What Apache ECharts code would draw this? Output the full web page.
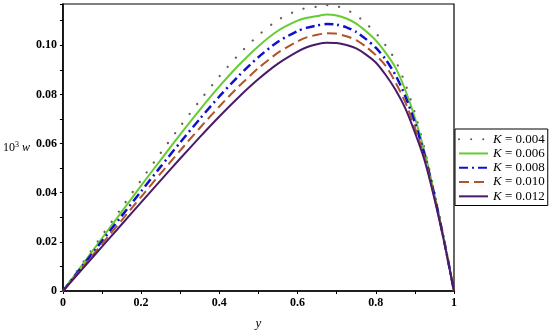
<!DOCTYPE html>
<html>
<head>
<meta charset="utf-8">
<script src="https://cdn.jsdelivr.net/npm/echarts@6/dist/echarts.min.js"></script>
<style>
html,body{margin:0;padding:0;background:#fff;}
#chart{width:550px;height:335px;}
</style>
</head>
<body>
<div id="chart"></div>
<script>
// y positions (horizontal axis)
const yPos = [0, 0.05, 0.1, 0.15, 0.2, 0.25, 0.3, 0.35, 0.4, 0.45, 0.5, 0.55, 0.6, 0.625, 0.65, 0.675, 0.7, 0.725, 0.75, 0.775, 0.8, 0.825, 0.85, 0.875, 0.9, 0.925, 0.95, 0.975, 1];
// 10^3 w values for each K
const wK004 = [0, 0.01130, 0.02261, 0.03388, 0.04511, 0.05619, 0.06703, 0.07746, 0.08731, 0.09630, 0.10410, 0.11035, 0.11419, 0.11520, 0.11572, 0.11629, 0.11588, 0.11450, 0.11217, 0.10890, 0.10500, 0.10000, 0.09400, 0.08450, 0.07250, 0.05767, 0.04017, 0.02073, 0];
const wK006 = [0, 0.01073, 0.02147, 0.03218, 0.04285, 0.05340, 0.06375, 0.07375, 0.08324, 0.09197, 0.09964, 0.10590, 0.11000, 0.11120, 0.11190, 0.11248, 0.11215, 0.11090, 0.10880, 0.10570, 0.10200, 0.09700, 0.09100, 0.08200, 0.07050, 0.05650, 0.03950, 0.02050, 0];
const wK008 = [0, 0.01016, 0.02033, 0.03048, 0.04059, 0.05061, 0.06047, 0.07004, 0.07917, 0.08764, 0.09518, 0.10145, 0.10581, 0.10720, 0.10808, 0.10867, 0.10842, 0.10730, 0.10543, 0.10250, 0.09900, 0.09430, 0.08800, 0.07950, 0.06850, 0.05533, 0.03883, 0.02027, 0];
const wK010 = [0, 0.00959, 0.01919, 0.02877, 0.03834, 0.04783, 0.05719, 0.06633, 0.07510, 0.08332, 0.09072, 0.09700, 0.10163, 0.10330, 0.10427, 0.10486, 0.10468, 0.10370, 0.10207, 0.09940, 0.09600, 0.09170, 0.08500, 0.07700, 0.06650, 0.05417, 0.03817, 0.02003, 0];
const wK012 = [0, 0.00902, 0.01805, 0.02707, 0.03608, 0.04504, 0.05391, 0.06262, 0.07103, 0.07899, 0.08626, 0.09255, 0.09744, 0.09930, 0.10045, 0.10105, 0.10095, 0.10010, 0.09870, 0.09620, 0.09300, 0.08800, 0.08200, 0.07450, 0.06450, 0.05300, 0.03750, 0.01980, 0];
const legendNames = ['K = 0.004', 'K = 0.006', 'K = 0.008', 'K = 0.010', 'K = 0.012'];
const xTicks = [0, 0.2, 0.4, 0.6, 0.8, 1];
const yTicks = [0, 0.02, 0.04, 0.06, 0.08, 0.10];

const zip = arr => yPos.map((x, i) => [x, arr[i]]);
const serif = 'Liberation Serif';

const chart = echarts.init(document.getElementById('chart'), null, {renderer: 'canvas'});
chart.setOption({
  backgroundColor: '#fff',
  animation: false,
  grid: {left: 60, right: 96, top: 4, bottom: 37, show: true, borderColor: '#000', borderWidth: 1.2},
  xAxis: {
    type: 'value', min: 0, max: 1, interval: 0.2,
    name: 'y', nameLocation: 'middle', nameGap: 26,
    nameTextStyle: {fontFamily: serif, fontStyle: 'italic', fontSize: 13, color: '#000'},
    axisLine: {show: true, lineStyle: {color: '#000', width: 1.5}},
    axisTick: {show: true, inside: false, length: 3, lineStyle: {color: '#000'}},
    minorTick: {show: true, splitNumber: 2, length: 3, lineStyle: {color: '#000'}},
    splitLine: {show: false},
    axisLabel: {
      fontFamily: serif, fontWeight: 'bold', fontSize: 12, color: '#000', margin: 6,
      formatter: v => xTicks.some(t => Math.abs(t - v) < 1e-9) ? (v === 0 ? '0' : (Math.abs(v - 1) < 1e-9 ? '1' : v.toFixed(1))) : ''
    }
  },
  yAxis: {
    type: 'value', min: 0, max: 0.1168, interval: 0.02,
    name: '{n|10}{s|3}{n| }{i|w}', nameLocation: 'middle', nameGap: 32, nameRotate: 0,
    nameTextStyle: {
      align: 'right',
      rich: {
        n: {fontFamily: serif, fontSize: 12, color: '#000'},
        s: {fontFamily: serif, fontSize: 8, color: '#000', verticalAlign: 'top', padding: [0, 0, 6, 0]},
        i: {fontFamily: serif, fontStyle: 'italic', fontSize: 12, color: '#000'}
      }
    },
    axisLine: {show: true, lineStyle: {color: '#000', width: 1.5}},
    axisTick: {show: true, inside: false, length: 3, lineStyle: {color: '#000'}},
    minorTick: {show: true, splitNumber: 2, length: 3, lineStyle: {color: '#000'}},
    splitLine: {show: false},
    axisLabel: {
      fontFamily: serif, fontWeight: 'bold', fontSize: 12, color: '#000', margin: 6, showMaxLabel: false,
      formatter: v => yTicks.some(t => Math.abs(t - v) < 1e-9) ? (v === 0 ? '0' : v.toFixed(2)) : ''
    }
  },
  legend: {
    orient: 'vertical', left: 455, top: 129,
    backgroundColor: '#fff', borderColor: '#000', borderWidth: 1,
    padding: [3, 3, 2, 3], itemGap: 0, itemWidth: 29, itemHeight: 14,
    itemStyle: {opacity: 0},
    data: legendNames,
    formatter: name => '{i|K}{n|' + name.slice(1) + '}',
    textStyle: {
      lineHeight: 14.3,
      rich: {
        i: {fontFamily: serif, fontStyle: 'italic', fontSize: 13, color: '#000'},
        n: {fontFamily: serif, fontSize: 13, color: '#000'}
      }
    }
  },
  series: [
    {name: legendNames[0], type: 'line', data: zip(wK004), smooth: 0.25, symbol: 'none',
     lineStyle: {color: '#6e5a4e', width: 2.2, type: [0.1, 12], cap: 'round'}, itemStyle: {color: '#6e5a4e'}},
    {name: legendNames[1], type: 'line', data: zip(wK006), smooth: 0.25, symbol: 'none',
     lineStyle: {color: '#66cc33', width: 2}, itemStyle: {color: '#66cc33'}},
    {name: legendNames[2], type: 'line', data: zip(wK008), smooth: 0.25, symbol: 'none',
     lineStyle: {color: '#1010cc', width: 2.5, type: [9, 4, 2, 4]}, itemStyle: {color: '#1010cc'}},
    {name: legendNames[3], type: 'line', data: zip(wK010), smooth: 0.25, symbol: 'none',
     lineStyle: {color: '#b0552a', width: 2, type: [10, 5]}, itemStyle: {color: '#b0552a'}},
    {name: legendNames[4], type: 'line', data: zip(wK012), smooth: 0.25, symbol: 'none',
     lineStyle: {color: '#4a1a6a', width: 2}, itemStyle: {color: '#4a1a6a'}}
  ]
});
</script>
</body>
</html>
